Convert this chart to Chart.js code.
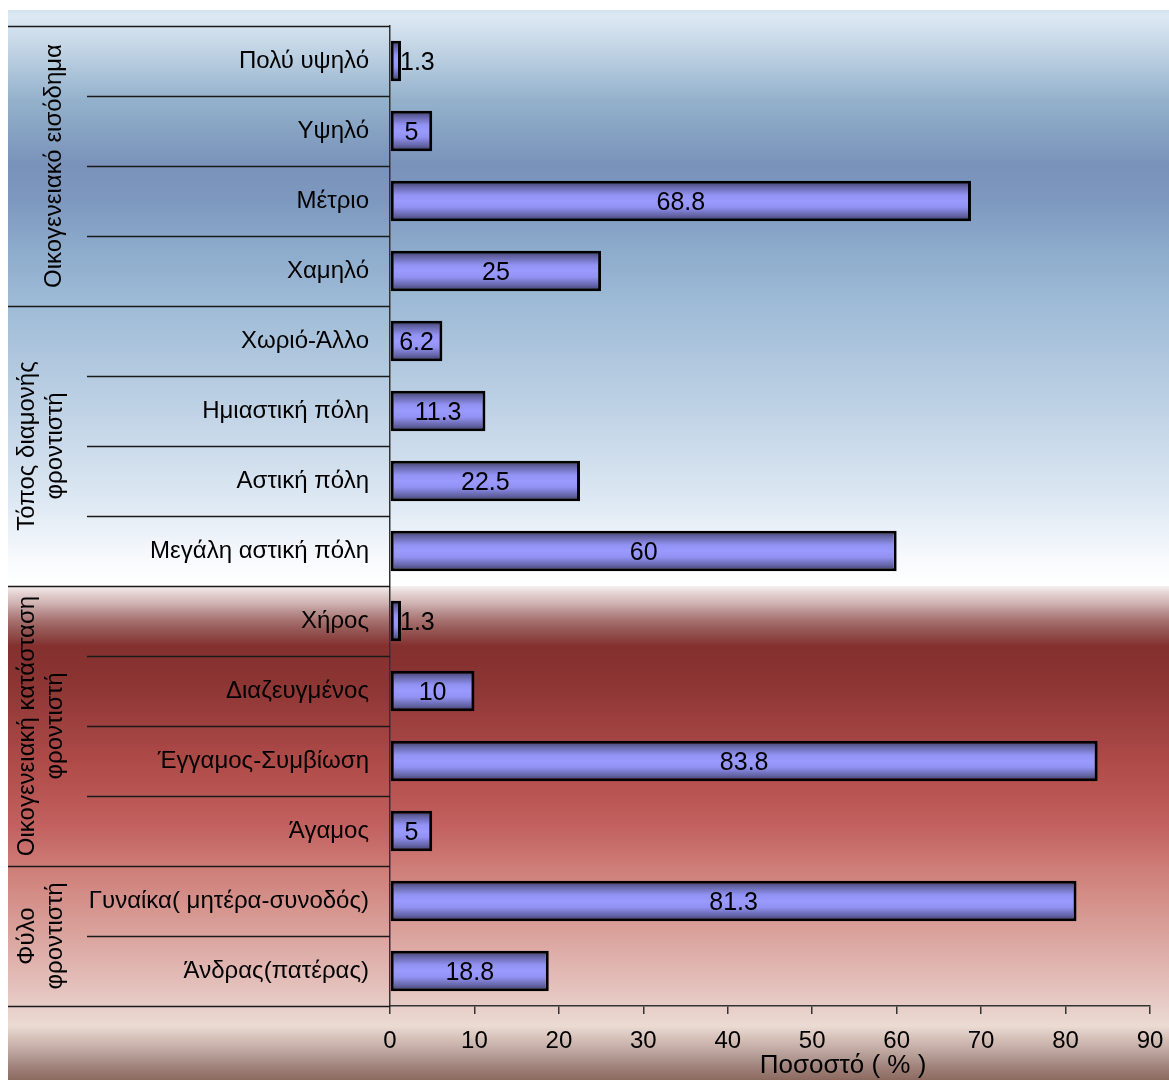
<!DOCTYPE html>
<html>
<head>
<meta charset="utf-8">
<script src="https://cdn.jsdelivr.net/npm/chart.js@4.4.1/dist/chart.umd.min.js"></script>
<style>
  html, body { margin: 0; padding: 0; background: #ffffff; }
  #wrap { width: 1169px; height: 1080px; position: relative; }
</style>
</head>
<body>
<div id="wrap"><canvas id="chart" width="1169" height="1080"></canvas></div>
<script>
// Categories, top to bottom
const categories = [
  'Πολύ υψηλό', 'Υψηλό', 'Μέτριο', 'Χαμηλό',
  'Χωριό-Άλλο', 'Ημιαστική πόλη', 'Αστική πόλη', 'Μεγάλη αστική πόλη',
  'Χήρος', 'Διαζευγμένος', 'Έγγαμος-Συμβίωση', 'Άγαμος',
  'Γυναίκα( μητέρα-συνοδός)', 'Άνδρας(πατέρας)'
];
// Percentages
const values = [1.3, 5, 68.8, 25, 6.2, 11.3, 22.5, 60, 1.3, 10, 83.8, 5, 81.3, 18.8];

// Groups of categories (first index and count), with their label lines
const groupNames = [
  ['Οικογενειακό εισόδημα'],
  ['Τόπος διαμονής', 'φροντιστή'],
  ['Οικογενειακή κατάσταση', 'φροντιστή'],
  ['Φύλο', 'φροντιστή']
];
const groupStarts = [0, 4, 8, 12];
const groupSizes = [4, 4, 4, 2];

// Value axis
const xMin = 0, xMax = 90, xStep = 10;
const xTitle = 'Ποσοστό ( % )';

const FONT = '"Liberation Sans", Arial, sans-serif';

// Two-part background: blue band behind the first two groups, red band behind the rest
const backgroundPlugin = {
  id: 'panelBackground',
  beforeDraw(chart) {
    const ctx = chart.ctx;
    const y = chart.scales.y;
    const split = (y.getPixelForValue(7) + y.getPixelForValue(8)) / 2;
    const x0 = 8, top = 10, W = chart.width, H = chart.height;
    ctx.save();
    ctx.fillStyle = '#ffffff';
    ctx.fillRect(0, 0, W, H);

    const g1 = ctx.createLinearGradient(0, top, 0, split);
    const s1 = split - top;
    const blue = [
      [0, '#d3e1ee'], [5, '#dce9f5'], [20, '#d2e0ed'], [50, '#b8cde0'],
      [90, '#94b1cc'], [120, '#86a3c3'], [155, '#7a92ba'], [190, '#7d98bf'],
      [240, '#8dabcb'], [290, '#9dbad6'], [390, '#bcd0e4'], [490, '#dde8f3'],
      [550, '#f8fafd'], [576, '#ffffff']
    ];
    blue.forEach(([d, c]) => g1.addColorStop(Math.min(d / s1, 1), c));
    ctx.fillStyle = g1;
    ctx.fillRect(x0, top, W - x0, split - top);

    const g2 = ctx.createLinearGradient(0, split, 0, H);
    const s2 = H - split;
    const red = [
      [0, '#f7f0f0'], [9, '#e0cccc'], [17, '#d2b4b4'], [25, '#bb9494'],
      [34, '#a87371'], [42, '#985d5a'], [50, '#8f4a48'], [60, '#83302f'],
      [100, '#8d3634'], [180, '#b04c4a'], [240, '#c2615f'], [285, '#cf7f79'],
      [345, '#daa19b'], [405, '#e5c3be'], [440, '#ebdbd3'], [452, '#d6c1b9'],
      [462, '#c4ada6'], [472, '#b09890'], [482, '#9e8078'], [494, '#8c6a60']
    ];
    red.forEach(([d, c]) => g2.addColorStop(Math.min(d / s2, 1), c));
    ctx.fillStyle = g2;
    ctx.fillRect(x0, split, W - x0, H - split);
    ctx.restore();
  }
};

// Table rules and rotated group names to the left of the category axis
const groupTablePlugin = {
  id: 'groupTable',
  afterDraw(chart) {
    const ctx = chart.ctx;
    const y = chart.scales.y;
    const axisX = chart.chartArea.left;
    const half = (y.getPixelForValue(1) - y.getPixelForValue(0)) / 2;
    ctx.save();
    ctx.strokeStyle = '#1a1a1a';
    ctx.lineWidth = 1.5;
    // group boundaries: full width of the table
    const groupEdges = [];
    groupStarts.forEach((s, i) => {
      groupEdges.push(y.getPixelForValue(s) - half);
      if (i === groupStarts.length - 1) {
        groupEdges.push(y.getPixelForValue(s + groupSizes[i] - 1) + half);
      }
    });
    groupEdges.forEach(py => {
      ctx.beginPath();
      ctx.moveTo(8, Math.round(py) + 0.5);
      ctx.lineTo(axisX, Math.round(py) + 0.5);
      ctx.stroke();
    });
    // category boundaries inside each group
    groupStarts.forEach((s, i) => {
      for (let k = 1; k < groupSizes[i]; k++) {
        const py = y.getPixelForValue(s + k) - half;
        ctx.beginPath();
        ctx.moveTo(87, Math.round(py) + 0.5);
        ctx.lineTo(axisX, Math.round(py) + 0.5);
        ctx.stroke();
      }
    });
    // rotated group names
    ctx.fillStyle = '#000000';
    ctx.font = '24px ' + FONT;
    ctx.textAlign = 'center';
    ctx.textBaseline = 'middle';
    groupNames.forEach((lines, i) => {
      const yTop = y.getPixelForValue(groupStarts[i]) - half;
      const yBot = y.getPixelForValue(groupStarts[i] + groupSizes[i] - 1) + half;
      const cy = (yTop + yBot) / 2;
      const xs = lines.length === 1 ? [53] : [26, 54];
      lines.forEach((t, j) => {
        ctx.save();
        ctx.translate(xs[j], cy);
        ctx.rotate(-Math.PI / 2);
        ctx.fillText(t, 0, 1);
        ctx.restore();
      });
    });
    // axis title
    ctx.font = '26px ' + FONT;
    ctx.fillText(xTitle, 843, 1066);
    ctx.restore();
  }
};

// Value labels: centred on the bar, or placed just after it when the bar is too short
const valueLabelPlugin = {
  id: 'valueLabels',
  afterDatasetsDraw(chart) {
    const ctx = chart.ctx;
    const meta = chart.getDatasetMeta(0);
    ctx.save();
    ctx.font = '25px ' + FONT;
    ctx.fillStyle = '#000000';
    ctx.textAlign = 'center';
    ctx.textBaseline = 'middle';
    meta.data.forEach((bar, i) => {
      const v = chart.data.datasets[0].data[i];
      const t = String(v);
      const w = ctx.measureText(t).width;
      const x0 = bar.base, x1 = bar.x;
      let cx = (x0 + x1) / 2;
      if (w + 6 > x1 - x0) cx = x1 - 1 + w / 2;
      ctx.fillText(t, cx, bar.y + 2);
    });
    ctx.restore();
  }
};

const BAR_PCT = 0.58;

function barGradient(context) {
  const chart = context.chart;
  const ys = chart.scales.y;
  if (!ys) return '#9999ff';
  const cy = ys.getPixelForValue(context.dataIndex);
  const h = (ys.getPixelForValue(1) - ys.getPixelForValue(0)) * BAR_PCT;
  if (!isFinite(cy) || !isFinite(h)) return '#9999ff';
  const g = chart.ctx.createLinearGradient(0, cy - h / 2, 0, cy + h / 2);
  g.addColorStop(0, '#3a3a68');
  g.addColorStop(0.15, '#6565a8');
  g.addColorStop(0.35, '#9292f4');
  g.addColorStop(0.5, '#9a9aff');
  g.addColorStop(0.65, '#9292f4');
  g.addColorStop(0.85, '#6565a8');
  g.addColorStop(1, '#3a3a68');
  return g;
}

new Chart(document.getElementById('chart'), {
  type: 'bar',
  data: {
    labels: categories,
    datasets: [{
      data: values,
      backgroundColor: barGradient,
      borderColor: '#000000',
      borderWidth: 3,
      borderSkipped: false,
      barPercentage: BAR_PCT,
      categoryPercentage: 1
    }]
  },
  options: {
    indexAxis: 'y',
    responsive: false,
    animation: false,
    devicePixelRatio: 1,
    layout: { padding: { left: 8, top: 26, right: 19, bottom: 0 } },
    plugins: {
      legend: { display: false },
      tooltip: { enabled: false },
      title: { display: false }
    },
    scales: {
      y: {
        type: 'category',
        offset: true,
        grid: { display: false, drawTicks: false },
        border: { display: true, color: '#333333', width: 1.5 },
        ticks: {
          autoSkip: false,
          color: '#000000',
          font: { family: FONT, size: 24 },
          padding: 21
        },
        afterFit(scale) {
          scale.width = 382;
          scale.paddingTop = 0;
          scale.paddingBottom = 0;
        }
      },
      x: {
        type: 'linear',
        min: xMin,
        max: xMax,
        grid: { drawOnChartArea: false, drawTicks: true, tickLength: 8, color: '#333333', lineWidth: 1.5 },
        border: { display: true, color: '#333333', width: 1.5 },
        ticks: {
          stepSize: xStep,
          color: '#000000',
          font: { family: FONT, size: 24 },
          padding: 13,
          maxRotation: 0
        },
        afterFit(scale) {
          scale.height = 74;
          scale.paddingLeft = 0;
          scale.paddingRight = 0;
        }
      }
    }
  },
  plugins: [backgroundPlugin, groupTablePlugin, valueLabelPlugin]
});
</script>
</body>
</html>
